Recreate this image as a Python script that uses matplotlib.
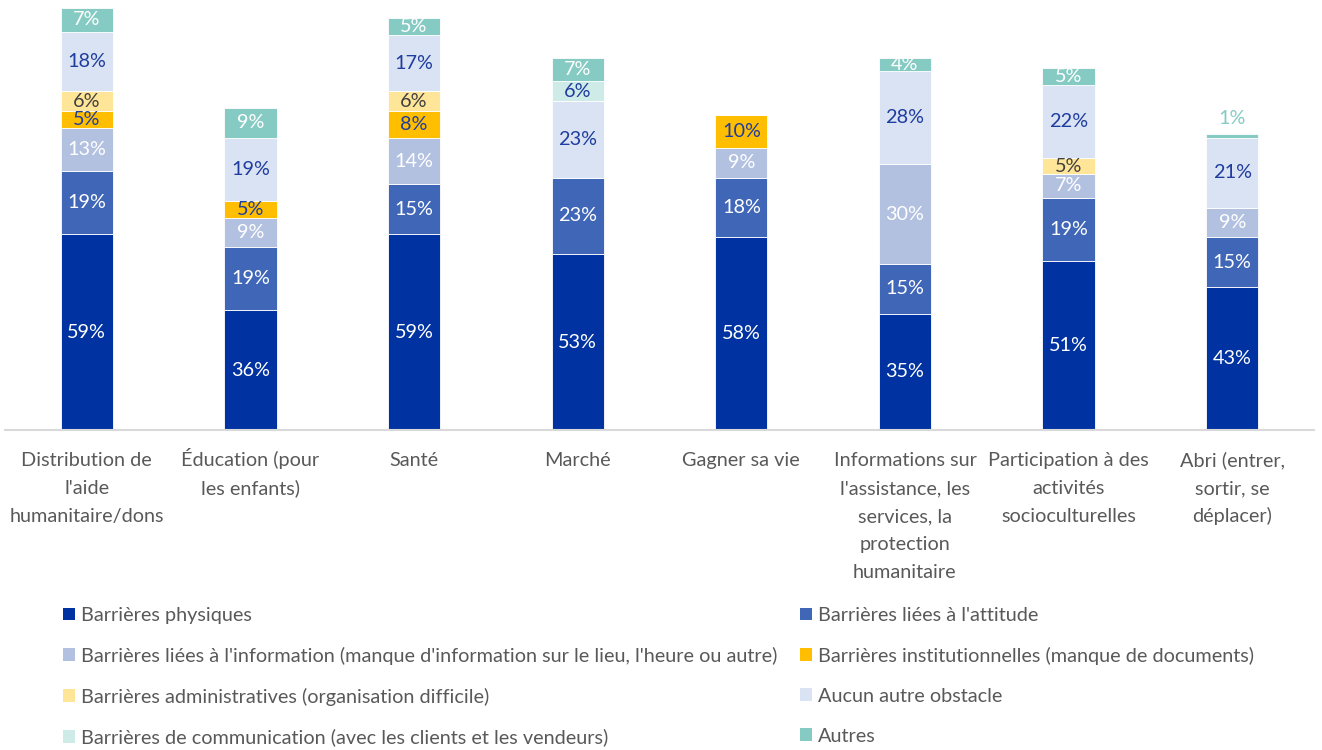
import matplotlib
matplotlib.use("Agg")
import matplotlib.pyplot as plt
from matplotlib.patches import Patch
import numpy as np

plt.rcParams['font.family'] = ['Lato', 'DejaVu Sans']

categories = [
    "Distribution de\nl'aide\nhumanitaire/dons",
    "Éducation (pour\nles enfants)",
    "Santé",
    "Marché",
    "Gagner sa vie",
    "Informations sur\nl'assistance, les\nservices, la\nprotection\nhumanitaire",
    "Participation à des\nactivités\nsocioculturelles",
    "Abri (entrer,\nsortir, se\ndéplacer)",
]

series_names = [
    "Barrières physiques",
    "Barrières liées à l'attitude",
    "Barrières liées à l'information (manque d'information sur le lieu, l'heure ou autre)",
    "Barrières institutionnelles (manque de documents)",
    "Barrières administratives (organisation difficile)",
    "Aucun autre obstacle",
    "Barrières de communication (avec les clients et les vendeurs)",
    "Autres",
]

physiques       = [59, 36, 59, 53, 58, 35, 51, 43]
attitude        = [19, 19, 15, 23, 18, 15, 19, 15]
information     = [13, 9, 14, 0, 9, 30, 7, 9]
institutionnel  = [5, 5, 8, 0, 10, 0, 0, 0]
administratives = [6, 0, 6, 0, 0, 0, 5, 0]
aucun           = [18, 19, 17, 23, 0, 28, 22, 21]
communication   = [0, 0, 0, 6, 0, 0, 0, 0]
autres          = [7, 9, 5, 7, 0, 4, 5, 1]

series = [physiques, attitude, information, institutionnel,
          administratives, aucun, communication, autres]

colors = ["#0033A1", "#4066B8", "#B3C1E1", "#FFBF00",
          "#FFE597", "#DAE3F3", "#CFEBE8", "#86CBC3"]
label_colors = ["white", "white", "white", "#1F3C9F",
                "#404040", "#1F3C9F", "#1F3C9F", "white"]

W, H = 1322, 750
fig = plt.figure(figsize=(W / 100, H / 100), dpi=100)
ax = fig.add_axes([5 / W, 1 - 430 / H, 1309 / W, 425 / H])

x = np.arange(len(categories))
bar_w = 0.32
bottom = np.zeros(len(categories))
fs = 14.3
px = 0.72  # points per pixel at 100 dpi

for vals, col, lcol in zip(series, colors, label_colors):
    v = np.array(vals, dtype=float)
    ax.bar(x, v, bar_w, bottom=bottom, color=col, edgecolor="white",
           linewidth=0.6, zorder=2)
    for i, val in enumerate(v):
        if val <= 0:
            continue
        if val < 2:
            # too thin to hold its label: write it above the bar
            ax.text(x[i], bottom[i] + val + 2.2, f"{int(val)}%", ha="center",
                    va="bottom", color=col, fontsize=fs)
        else:
            ax.text(x[i], bottom[i] + val / 2, f"{int(val)}%", ha="center",
                    va="center", color=lcol, fontsize=fs)
    bottom += v

ax.set_xlim(-0.5, len(categories) - 0.5)
ax.set_ylim(0, 128)
ax.set_xticks(x)
ax.set_xticklabels([])
ax.tick_params(axis="x", length=0)
ax.set_yticks([])

# category names, one baseline-aligned line at a time below the axis
for xi, name in zip(x, categories):
    for j, line in enumerate(name.split("\n")):
        ax.annotate(line, xy=(xi, 0), xycoords=("data", "axes fraction"),
                    xytext=(0, -(36 + 28 * j) * px), textcoords="offset points",
                    ha="center", va="baseline", fontsize=fs, color="#595959",
                    annotation_clip=False)

for s in ["top", "right", "left"]:
    ax.spines[s].set_visible(False)
ax.spines["bottom"].set_color("#D9D9D9")
ax.spines["bottom"].set_linewidth(1.5)

handles = [Patch(facecolor=c, edgecolor="none") for c in colors]
order_left = [0, 2, 4, 6]
order_right = [1, 3, 5, 7]
for order, xpx in ((order_left, 63), (order_right, 800)):
    leg = fig.legend([handles[k] for k in order], [series_names[k] for k in order],
                     loc="upper left", bbox_to_anchor=(xpx / W, 1 - 607 / H),
                     frameon=False, fontsize=fs, borderpad=0, borderaxespad=0,
                     handlelength=0.62, handleheight=0.62, handletextpad=0.3,
                     labelspacing=1.15)
    for t in leg.get_texts():
        t.set_color("#595959")

fig.savefig("out.png", dpi=100)
